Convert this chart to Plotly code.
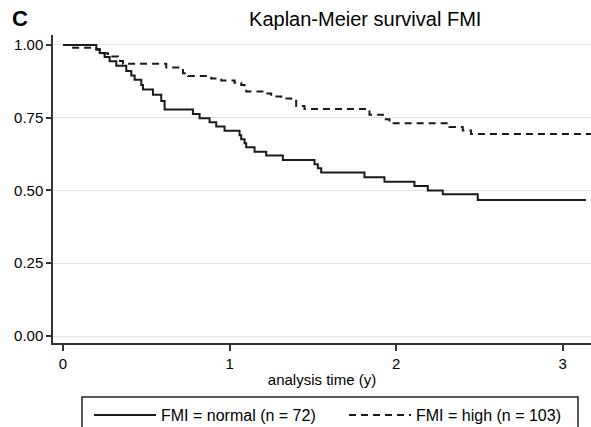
import plotly.graph_objects as go

# Kaplan-Meier step data
normal_t = [0, 0.20, 0.22, 0.25, 0.28, 0.32, 0.38, 0.41, 0.43, 0.47, 0.48, 0.54, 0.59, 0.61,
            0.78, 0.82, 0.88, 0.92, 0.97, 1.06, 1.07, 1.09, 1.10, 1.15, 1.22, 1.32,
            1.51, 1.53, 1.55, 1.81, 1.93, 2.11, 2.19, 2.28, 2.49, 3.14]
normal_s = [1.0, 0.986, 0.972, 0.958, 0.944, 0.928, 0.910, 0.895, 0.880, 0.862, 0.847, 0.829, 0.807, 0.778,
            0.763, 0.748, 0.734, 0.720, 0.705, 0.690, 0.676, 0.662, 0.648, 0.633, 0.620, 0.605,
            0.590, 0.576, 0.562, 0.545, 0.530, 0.515, 0.500, 0.487, 0.467, 0.467]

high_t = [0, 0.05, 0.20, 0.24, 0.27, 0.33, 0.36, 0.62, 0.72, 0.75, 0.89, 0.95, 1.03, 1.07, 1.09, 1.10,
          1.22, 1.25, 1.31, 1.37, 1.40, 1.45, 1.84, 1.92, 1.96, 2.32, 2.40, 2.45, 3.17]
high_s = [1.0, 0.990, 0.983, 0.971, 0.960, 0.945, 0.935, 0.922, 0.903, 0.893, 0.885, 0.878, 0.870, 0.862, 0.850, 0.840,
          0.833, 0.823, 0.816, 0.808, 0.790, 0.780, 0.760, 0.745, 0.731, 0.718, 0.706, 0.694, 0.694]

series_names = ["FMI = normal (n = 72)", "FMI = high (n = 103)"]
y_ticks = [0, 0.25, 0.5, 0.75, 1.0]
y_ticklabels = ["0.00", "0.25", "0.50", "0.75", "1.00"]
x_ticks = [0, 1, 2, 3]

FONT = "Liberation Sans, Arial, Helvetica, sans-serif"

# plot-area geometry in pixels (used to place the legend frame and panel letter)
L, R, T, B = 53, 591, 35, 343
PW, PH = R - L, B - T

fig = go.Figure()
fig.add_trace(go.Scatter(x=normal_t, y=normal_s, mode="lines", line_shape="hv",
                         name=series_names[0], line=dict(color="#1a1a1a", width=2)))
fig.add_trace(go.Scatter(x=high_t, y=high_s, mode="lines", line_shape="hv",
                         name=series_names[1], line=dict(color="#1a1a1a", width=2, dash="7px,5px")))

fig.update_layout(
    width=591, height=427,
    margin=dict(l=L, r=591 - R, t=T, b=427 - B),
    plot_bgcolor="white", paper_bgcolor="white",
    font=dict(family=FONT, color="black", size=15),
    title=dict(text="Kaplan-Meier survival FMI", x=0.618, xanchor="center",
               y=1 - 19 / 427, yanchor="middle", font=dict(size=20, family=FONT)),
    xaxis=dict(range=[-0.06, 3.17], tickvals=x_ticks, ticks="outside", ticklen=6,
               tickwidth=1.5, tickcolor="#333", showline=True, linecolor="#333", linewidth=1.5,
               showgrid=False, zeroline=False, tickfont=dict(size=15),
               title=dict(text="analysis time (y)", font=dict(size=15), standoff=4)),
    yaxis=dict(range=[-0.024, 1.034], tickvals=y_ticks, ticktext=y_ticklabels, ticks="outside",
               ticklen=5, tickwidth=1.5, tickcolor="#333", showline=True, linecolor="#333",
               linewidth=1.5, showgrid=True, gridcolor="#e3e3e3", gridwidth=1, zeroline=False,
               tickfont=dict(size=15)),
    legend=dict(orientation="h", xref="container", yref="container",
                x=89 / 591, xanchor="left", y=1 - 398 / 427, yanchor="top",
                bgcolor="rgba(0,0,0,0)", borderwidth=0, entrywidth=178,
                font=dict(size=16), itemwidth=62),
    shapes=[dict(type="rect", xref="paper", yref="paper",
                 x0=(82 - L) / PW, x1=(578 - L) / PW,
                 y0=(B - 440) / PH, y1=(B - 397) / PH,
                 line=dict(color="#222", width=1.5), fillcolor="rgba(0,0,0,0)")],
    annotations=[dict(text="<b>C</b>", x=(10 - L) / PW, y=(B - 19) / PH,
                      xref="paper", yref="paper",
                      xanchor="left", yanchor="middle", showarrow=False,
                      font=dict(size=22, family=FONT))],
)

fig.write_html("out.html")
